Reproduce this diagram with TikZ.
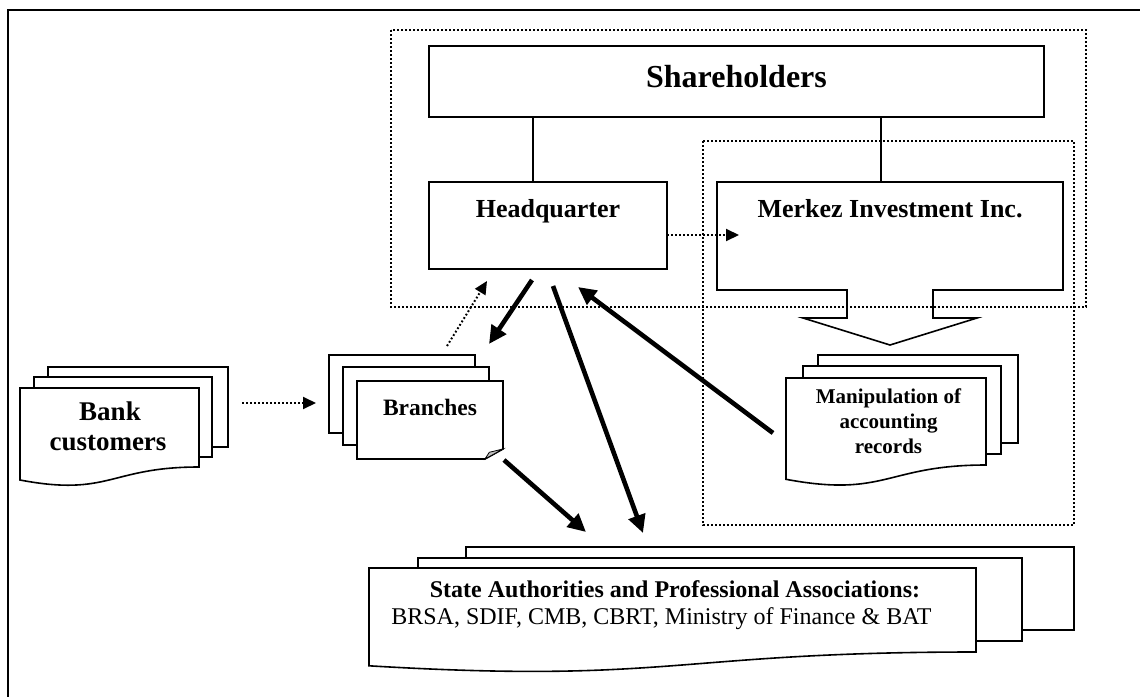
\documentclass[tikz,border=0pt]{standalone}
\usepackage{fontspec}
\setmainfont{Liberation Serif}
\usetikzlibrary{arrows.meta}
\begin{document}
\begin{tikzpicture}[x=1pt,y=-1pt,line join=miter,
  boxline/.style={draw=black,line width=1.6pt,outer sep=0pt,inner sep=0pt},
  docline/.style={draw=black,fill=white,line width=1.6pt},
  dotline/.style={draw=black,line width=2pt,dash pattern=on 1.8pt off 2.2pt},
  thickarrow/.style={draw=black,line width=4.6pt,-{Triangle[length=18pt,width=17pt]}},
  dotarrow/.style={draw=black,line width=2pt,dash pattern=on 1.8pt off 2.2pt,-{Triangle[length=13pt,width=12pt]}},
  thinline/.style={draw=black,line width=1.4pt},
  lbl/.style={anchor=base,inner sep=0pt}
]
\useasboundingbox (0,0) rectangle (1140,696);
\clip (0,0) rectangle (1140,696);
\fill[white] (0,0) rectangle (1140,696);

% outer frame
\draw[line width=1.5pt] (8,720) -- (8,10) -- (1160,10);

% dotted groupings
\draw[dotline] (391,30) rectangle (1086,307);
\draw[dotline] (703,141) rectangle (1074,525);

% Shareholders
\node[boxline,minimum width=615pt,minimum height=71pt,anchor=north west] (sh) at (429,46) {};
\node[lbl,font=\fontsize{32}{38}\selectfont\bfseries] (sht) at (736.5,87) {Shareholders};

% Headquarter
\node[boxline,minimum width=238pt,minimum height=87pt,anchor=north west] (hq) at (429,182) {};
\node[lbl,font=\fontsize{26}{31}\selectfont\bfseries] (hqt) at (548,217) {Headquarter};

% Merkez Investment Inc. (box with callout arrow)
\draw[line width=1.6pt] (717,182) -- (1063,182) -- (1063,290) -- (933,290) -- (933,318)
  -- (977,318) -- (890,345) -- (803,318) -- (847,318) -- (847,290) -- (717,290) -- cycle;
\coordinate (mk) at (890,182);
\node[lbl,font=\fontsize{26}{31}\selectfont\bfseries] (mkt) at (890,217) {Merkez Investment Inc.};

% connectors shareholders
\coordinate (c1) at (533,0);
\coordinate (c2) at (881,0);
\draw[thinline] (sh.south -| c1) -- (hq.north -| c1);
\draw[thinline] (sh.south -| c2) -- (mk -| c2);

% Bank customers (multi-document)
\draw[docline] (48,367) rectangle (228,447);
\draw[docline] (34,377) rectangle (212,457);
\draw[docline] (20,388) -- (199,388) -- (199,467) .. controls (109.5,467) and (109.5,497) .. (20,480) -- cycle;
\node[lbl,font=\fontsize{27}{30}\selectfont\bfseries] (bk1) at (110,420) {Bank};
\node[lbl,font=\fontsize{27}{30}\selectfont\bfseries] (bk2) at (108,450) {customers};

% Branches (stack with folded corner)
\draw[docline] (329,355) rectangle (475,433);
\draw[docline] (343,367) rectangle (489,445);
\draw[docline] (357,381) -- (503,381) -- (503,449) -- (485,459) -- (357,459) -- cycle;
\filldraw[fill=black!25,draw=black,line width=0.8pt] (485,459) -- (489.3,452.3) -- (503,449) -- cycle;
\node[lbl,font=\fontsize{23.5}{28}\selectfont\bfseries] (br) at (430,415) {Branches};

% Manipulation of accounting records
\draw[docline] (818,355) rectangle (1018,443);
\draw[docline] (803,366) rectangle (1001,454);
\draw[docline] (786,378) -- (986,378) -- (986,465) .. controls (886,465) and (886,498) .. (786,479.3) -- cycle;
\node[lbl,font=\fontsize{21}{25}\selectfont\bfseries] (mp1) at (888.5,403) {Manipulation of};
\node[lbl,font=\fontsize{21}{25}\selectfont\bfseries] (mp2) at (888.5,428) {accounting};
\node[lbl,font=\fontsize{21}{25}\selectfont\bfseries] (mp3) at (888.5,453) {records};

% State Authorities
\draw[docline] (466,547) rectangle (1074,630);
\draw[docline] (418,558) rectangle (1022,641);
\draw[docline] (369,568) -- (976,568) -- (976,652) .. controls (672.5,652) and (672.5,684) .. (369,665.8) -- cycle;
\node[lbl,font=\fontsize{24}{27}\selectfont\bfseries] (st1) at (675,597) {State Authorities and Professional Associations:};
\node[lbl,font=\fontsize{24}{27}\selectfont] (st2) at (661.5,624) {BRSA, SDIF, CMB, CBRT, Ministry of Finance \& BAT};

% arrow end points
\coordinate (a1s) at (532,280); \coordinate (a1e) at (489,344);
\coordinate (a2s) at (553,286); \coordinate (a2e) at (643,533);
\coordinate (a3s) at (773,433); \coordinate (a3e) at (578,287);
\coordinate (a4s) at (504,460); \coordinate (a4e) at (586,532);
\coordinate (d1s) at (447,346); \coordinate (d1e) at (487,281);
\coordinate (d2s) at (242,403); \coordinate (d2e) at (316,403);
\coordinate (d3s) at (667,235); \coordinate (d3e) at (739,235);

\draw[thickarrow] (a1s) -- (a1e);
\draw[thickarrow] (a2s) -- (a2e);
\draw[thickarrow] (a3s) -- (a3e);
\draw[thickarrow] (a4s) -- (a4e);
\draw[dotarrow] (d1s) -- (d1e);
\draw[dotarrow] (d2s) -- (d2e);
\draw[dotarrow] (d3s) -- (d3e);
\end{tikzpicture}
\end{document}
